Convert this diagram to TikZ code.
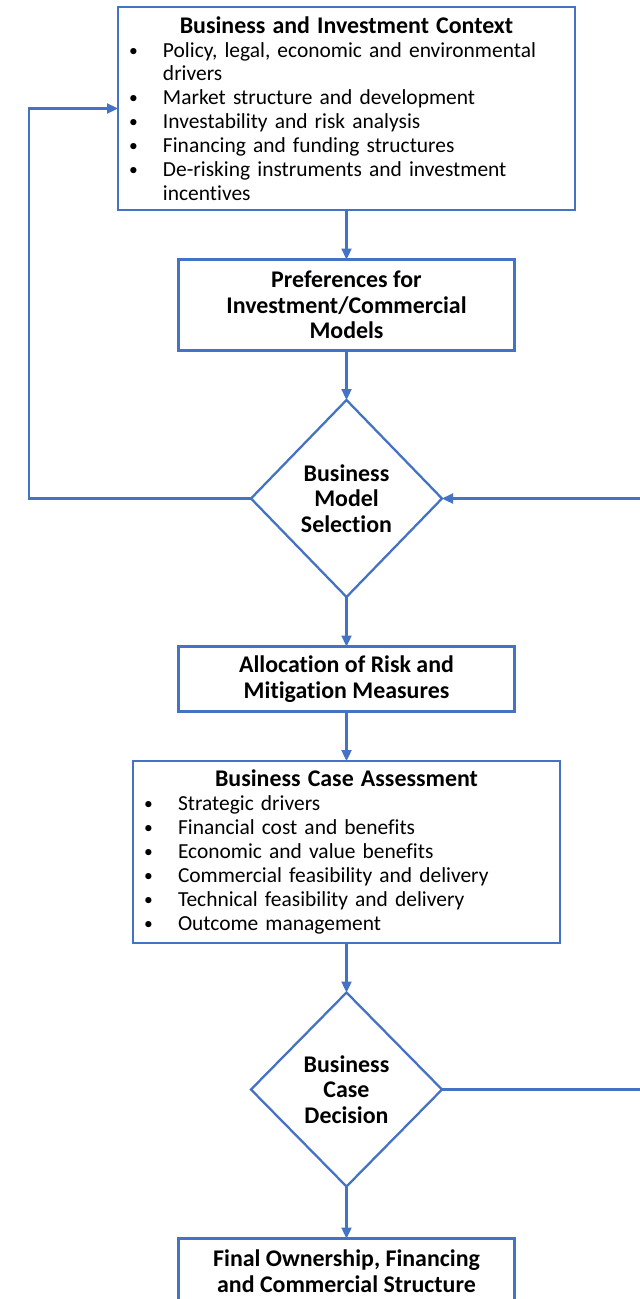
\documentclass[tikz,border=0pt]{standalone}
\usepackage{fontspec}
\setmainfont{Carlito}[Ligatures=NoCommon]
\usepackage{enumitem}
\usetikzlibrary{arrows.meta,positioning,shapes.geometric}
\definecolor{flowBlue}{HTML}{4472C4}
\setlist[itemize]{label=\raisebox{0.1ex}{\fontsize{10}{10}\selectfont\textbullet},
  nosep, leftmargin=0.7cm, labelsep=0.5cm}
\tikzset{
  flow/.style={-{Triangle[length=2.2mm,width=2mm]}, line width=1.3pt, draw=flowBlue},
  link/.style={line width=1.3pt, draw=flowBlue},
  list box/.style={draw=flowBlue, line width=1.3pt, fill=white, align=left,
    outer sep=0pt, inner xsep=0.2cm, inner ysep=0pt,
    font=\fontsize{12.2}{13.6}\selectfont},
  stage box/.style={draw=flowBlue, line width=1.3pt, fill=white, outer sep=0pt,
    minimum width=6.72cm, align=center, inner sep=0pt,
    font=\fontsize{13.6}{14.5}\selectfont\bfseries},
  choice/.style={diamond, draw=flowBlue, line width=1.3pt, fill=white,
    outer sep=0pt, minimum width=3.82cm, minimum height=3.94cm, inner sep=0pt,
    align=center, font=\fontsize{13.6}{14.5}\selectfont\bfseries}
}

\begin{document}
\begin{tikzpicture}[node distance=0.99cm]
  \useasboundingbox (0,0) rectangle (12.78,-25.98);
  \node[list box, text width=8.74cm, minimum height=4.06cm] (context) at (6.93,-2.17) {%
    {\centering\fontsize{13.6}{14.5}\selectfont\textbf{Business and Investment Context}\par}
    \begin{itemize}
      \item Policy, legal, economic and environmental drivers
      \item Market structure and development
      \item Investability and risk analysis
      \item Financing and funding structures
      \item De-risking instruments and investment incentives
    \end{itemize}};
  \node[stage box, minimum height=1.82cm, below=of context] (prefs)
    {Preferences for\\Investment/Commercial\\Models};
  \node[choice, below=of prefs] (model) {Business\\Model\\Selection};
  \node[stage box, minimum height=1.3cm, below=of model] (risk)
    {Allocation of Risk and\\Mitigation Measures};
  \node[list box, text width=8.14cm, minimum height=3.64cm, below=of risk] (assess) {%
    {\centering\fontsize{13.6}{14.5}\selectfont\textbf{Business Case Assessment}\par}
    \begin{itemize}
      \item Strategic drivers
      \item Financial cost and benefits
      \item Economic and value benefits
      \item Commercial feasibility and delivery
      \item Technical feasibility and delivery
      \item Outcome management
    \end{itemize}};
  \node[choice, minimum height=3.88cm, below=of assess] (decision) {Business\\Case\\Decision};
  \node[stage box, minimum height=1.3cm, below=of decision, yshift=-0.05cm] (final)
    {Final Ownership, Financing\\and Commercial Structure};
  % loop ends
  \coordinate (back) at ([xshift=-4.44cm]model.west);
  \coordinate (retin) at ([xshift=4.1cm]model.east);
  \coordinate (retout) at ([xshift=4.1cm]decision.east);
  \draw[flow] (context) -- (prefs);
  \draw[flow] (prefs) -- (model);
  \draw[flow] (model) -- (risk);
  \draw[flow] (risk) -- (assess);
  \draw[flow] (assess) -- (decision);
  \draw[flow] (decision) -- (final);
  \draw[flow] (model.west) -- (back) |- (context.west);
  \draw[flow] (retin) -- (model.east);
  \draw[link] (decision.east) -- (retout);
\end{tikzpicture}
\end{document}
